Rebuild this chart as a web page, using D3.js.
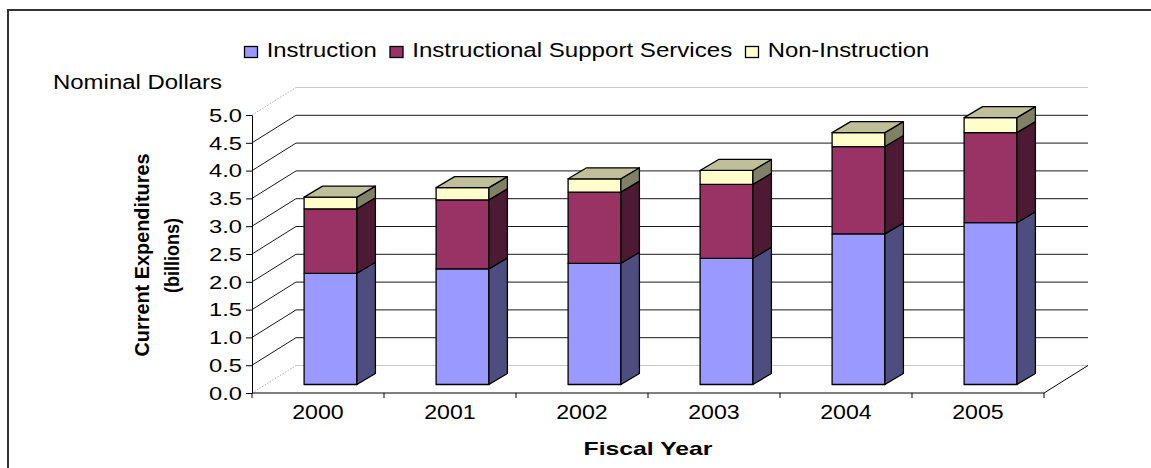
<!DOCTYPE html>
<html>
<head>
<meta charset="utf-8">
<script src="https://cdn.jsdelivr.net/npm/d3@7"></script>
<style>
  html, body { margin: 0; padding: 0; background: #fff; }
  svg { display: block; }
  text { font-family: "Liberation Sans", Arial, sans-serif; fill: #000; }
</style>
</head>
<body>
<script>
// ---- data ----
const years = ["2000", "2001", "2002", "2003", "2004", "2005"];
const seriesNames = ["Instruction", "Instructional Support Services", "Non-Instruction"];
const instruction = [2.00, 2.08, 2.18, 2.27, 2.71, 2.91];
const supportServices = [1.16, 1.24, 1.28, 1.33, 1.57, 1.62];
const nonInstruction = [0.21, 0.22, 0.24, 0.25, 0.25, 0.27];
const yTicks = [0, 0.5, 1.0, 1.5, 2.0, 2.5, 3.0, 3.5, 4.0, 4.5, 5.0];
const yTitle = ["Current Expenditures", "(billions)"];
const xTitle = "Fiscal Year";
const unitLabel = "Nominal Dollars";

// ---- style ----
const frontColors = ["#9999FF", "#993366", "#FFFFCC"];
const sideColors  = ["#4D4D80", "#4D1A33", "#808066"];
const topColors   = ["#7373BF", "#73264D", "#BFBF99"];

const W = 1151, H = 468;
const svg = d3.select("body").append("svg").attr("width", W).attr("height", H);
svg.append("rect").attr("width", W).attr("height", H).attr("fill", "#fff");
// frame (extends past right/bottom edges)
svg.append("rect").attr("x", 8).attr("y", 10).attr("width", 1160).attr("height", 480)
  .attr("fill", "none").attr("stroke", "#333").attr("stroke-width", 2);

const x0 = 252, x1 = 1044, yB = 393, yT = 115;
const x = d3.scaleBand().domain(years).range([x0, x1]).paddingInner(0.6).paddingOuter(0.3);
const y = d3.scaleLinear().domain([0, 5]).range([yB, yT]);
const WX = 44, WY = -27.5;        // wall depth
const BFX = 12.5, BFY = -8.5;     // bar front offset into depth
const BDX = 18.5, BDY = -11;      // bar depth

// back wall gridlines
const grid = svg.append("g");
yTicks.forEach(v => {
  const edge = (v === 0 || v === 5);
  grid.append("line")
    .attr("x1", x0 + WX).attr("x2", x1 + WX)
    .attr("y1", y(v) + WY).attr("y2", y(v) + WY)
    .attr("stroke", edge ? "#c8c8c8" : "#1a1a1a").attr("stroke-width", 1);
  grid.append("line")
    .attr("x1", x0).attr("x2", x0 + WX)
    .attr("y1", y(v)).attr("y2", y(v) + WY)
    .attr("stroke", edge ? "#b0b0b0" : "#1a1a1a").attr("stroke-width", 1)
    .attr("stroke-dasharray", edge ? "1.5,1.5" : null);
});
// floor right edge
grid.append("line").attr("x1", x1).attr("y1", yB).attr("x2", x1 + WX).attr("y2", yB + WY)
  .attr("stroke", "#000").attr("stroke-width", 1);

// bars
const series = [instruction, supportServices, nonInstruction];
const barsG = svg.append("g");
years.forEach((yr, i) => {
  let cum = 0;
  const bx = x(yr) + BFX, bw = x.bandwidth();
  series.forEach((s, j) => {
    const v0 = cum, v1 = cum + s[i];
    cum = v1;
    const yt = y(v1) + BFY, yb = y(v0) + BFY;
    barsG.append("rect").attr("x", bx).attr("y", yt).attr("width", bw).attr("height", yb - yt)
      .attr("fill", frontColors[j]).attr("stroke", "#000").attr("stroke-width", 1.3)
      .attr("stroke-linejoin", "round");
    barsG.append("polygon")
      .attr("points", [[bx + bw, yt], [bx + bw + BDX, yt + BDY], [bx + bw + BDX, yb + BDY], [bx + bw, yb]].join(" "))
      .attr("fill", sideColors[j]).attr("stroke", "#000").attr("stroke-width", 1.3)
      .attr("stroke-linejoin", "round");
    if (j === series.length - 1) {
      barsG.append("polygon")
        .attr("points", [[bx, yt], [bx + BDX, yt + BDY], [bx + bw + BDX, yt + BDY], [bx + bw, yt]].join(" "))
        .attr("fill", topColors[j]).attr("stroke", "#000").attr("stroke-width", 1.3)
        .attr("stroke-linejoin", "round");
    }
  });
});

// y axis
const yAxis = svg.append("g").attr("transform", `translate(${x0},0)`)
  .call(d3.axisLeft(y).tickValues(yTicks).tickFormat(d3.format(".1f")).tickSize(6).tickSizeOuter(0));
yAxis.select(".domain").attr("stroke", "#000");
yAxis.selectAll(".tick line").attr("stroke", "#000");
yAxis.selectAll(".tick text")
  .attr("x", -10).attr("dy", "0.36em")
  .attr("font-size", 17.5).attr("font-family", "Liberation Sans, Arial, sans-serif")
  .attr("textLength", 33).attr("lengthAdjust", "spacingAndGlyphs").attr("fill", "#000");

// x axis: line, boundary ticks, labels
const xAxis = svg.append("g").attr("transform", `translate(0,${yB})`);
xAxis.append("line").attr("x1", x0).attr("x2", x1).attr("y1", 0).attr("y2", 0).attr("stroke", "#000");
const bounds = years.map(d => x(d) - x.step() * 0.3).concat([x1]);
bounds.forEach(b => {
  xAxis.append("line").attr("x1", b).attr("x2", b).attr("y1", 0).attr("y2", 5).attr("stroke", "#000");
});
xAxis.selectAll("text.cat").data(years).join("text").attr("class", "cat")
  .attr("x", d => x(d) + x.bandwidth() / 2)
  .attr("y", 26.3).attr("text-anchor", "middle")
  .attr("font-size", 20).attr("textLength", 51.5).attr("lengthAdjust", "spacingAndGlyphs")
  .text(d => d);

// x title
svg.append("text").attr("x", (x0 + x1) / 2).attr("y", 455).attr("text-anchor", "middle")
  .attr("font-size", 18.6).attr("font-weight", "bold")
  .attr("textLength", 129).attr("lengthAdjust", "spacingAndGlyphs")
  .text(xTitle);

// y title (rotated)
const yt1 = svg.append("text").attr("transform", "translate(149.3,255) rotate(-90)")
  .attr("text-anchor", "middle").attr("font-size", 20).attr("font-weight", "bold")
  .attr("textLength", 203).attr("lengthAdjust", "spacingAndGlyphs").text(yTitle[0]);
svg.append("text").attr("transform", "translate(179.3,255.5) rotate(-90)")
  .attr("text-anchor", "middle").attr("font-size", 20).attr("font-weight", "bold")
  .attr("textLength", 75).attr("lengthAdjust", "spacingAndGlyphs").text(yTitle[1]);

// unit label
svg.append("text").attr("x", 53).attr("y", 89.3).attr("font-size", 20)
  .attr("textLength", 169).attr("lengthAdjust", "spacingAndGlyphs").text(unitLabel);

// legend
const legendWidths = [110, 320, 161.5];
let lx = 244;
const legend = svg.append("g");
seriesNames.forEach((name, j) => {
  legend.append("rect").attr("x", lx + 0.5).attr("y", 46.5).attr("width", 13).attr("height", 11)
    .attr("fill", frontColors[j]).attr("stroke", "#000").attr("stroke-width", 1.3);
  legend.append("text").attr("x", lx + 22.7).attr("y", 57.3).attr("font-size", 19.5)
    .attr("textLength", legendWidths[j]).attr("lengthAdjust", "spacingAndGlyphs").text(name);
  lx += 22.7 + legendWidths[j] + 12.8;
});
</script>
</body>
</html>
